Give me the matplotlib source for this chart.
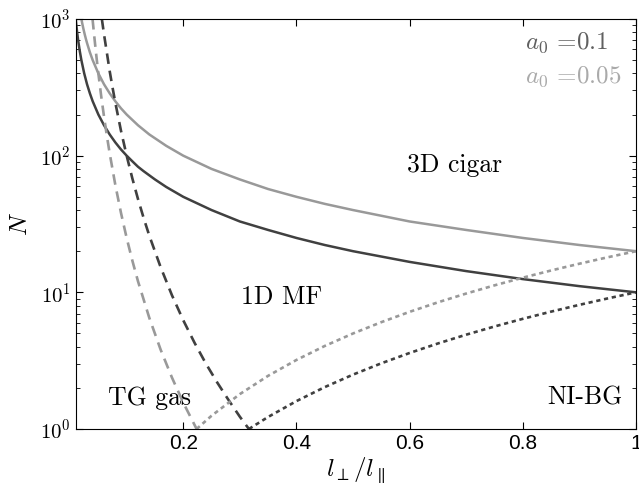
import numpy as np
import matplotlib
matplotlib.use('Agg')
import matplotlib.pyplot as plt
from matplotlib.ticker import FixedLocator, FixedFormatter, LogLocator, NullFormatter

plt.rcParams['font.family'] = 'Liberation Sans'
plt.rcParams['mathtext.fontset'] = 'cm'

# crossover curves, N versus l_perp / l_par
x_solid_a = [0.01, 0.011, 0.012, 0.013, 0.014, 0.015, 0.017, 0.02, 0.025, 0.03, 0.035,
             0.04, 0.05, 0.06, 0.07, 0.08, 0.09, 0.1, 0.11, 0.12, 0.13, 0.15, 0.17, 0.2,
             0.25, 0.3, 0.35, 0.4, 0.45, 0.5, 0.6, 0.7, 0.8, 0.9, 1.0]
n_solid_a = [1000, 909, 833, 769, 714, 667, 588, 500, 400, 333, 286,
             250, 200, 167, 143, 125, 111, 100, 91, 83, 77, 67, 59, 50,
             40, 33, 28.6, 25, 22.2, 20, 16.7, 14.3, 12.5, 11.1, 10]
x_solid_b = [0.02, 0.022, 0.024, 0.026, 0.028, 0.03, 0.035, 0.04, 0.05, 0.06, 0.07,
             0.08, 0.09, 0.1, 0.12, 0.14, 0.17, 0.2, 0.25, 0.3, 0.35, 0.4, 0.45, 0.5,
             0.6, 0.7, 0.8, 0.9, 1.0]
n_solid_b = [1000, 909, 833, 769, 714, 667, 571, 500, 400, 333, 286,
             250, 222, 200, 167, 143, 118, 100, 80, 67, 57, 50, 44.4, 40,
             33, 28.6, 25, 22.2, 20]

x_dash_a = [0.0562, 0.06, 0.065, 0.07, 0.075, 0.08, 0.09, 0.1, 0.11, 0.12, 0.13, 0.14,
            0.16, 0.18, 0.2, 0.22, 0.24, 0.26, 0.28, 0.3, 0.316]
n_dash_a = [1000, 772, 568, 416, 316, 244, 152, 100, 68.3, 48.2, 35.0, 26.0,
            15.3, 9.53, 6.25, 4.27, 3.01, 2.19, 1.63, 1.23, 1.0]
x_dash_b = [0.0397, 0.0425, 0.045, 0.0475, 0.05, 0.055, 0.06, 0.065, 0.07, 0.08, 0.09,
            0.1, 0.11, 0.12, 0.14, 0.16, 0.18, 0.2, 0.2236]
n_dash_b = [1000, 767, 610, 491, 400, 273, 193, 140, 104, 61, 38.1,
            25, 17.1, 12.06, 6.51, 3.81, 2.38, 1.56, 1.0]

x_dot_a = [0.316, 0.35, 0.4, 0.45, 0.5, 0.55, 0.6, 0.65, 0.7, 0.75, 0.8, 0.85,
           0.9, 0.95, 1.0]
n_dot_a = [1.0, 1.225, 1.6, 2.025, 2.5, 3.025, 3.6, 4.225, 4.9, 5.625, 6.4, 7.225,
           8.1, 9.025, 10]
x_dot_b = [0.2236, 0.25, 0.3, 0.35, 0.4, 0.45, 0.5, 0.55, 0.6, 0.65, 0.7, 0.75,
           0.8, 0.85, 0.9, 0.95, 1.0]
n_dot_b = [1.0, 1.25, 1.8, 2.45, 3.2, 4.05, 5.0, 6.05, 7.2, 8.45, 9.8, 11.25,
           12.8, 14.45, 16.2, 18.05, 20]

x_ticks = [0.2, 0.4, 0.6, 0.8, 1.0]
x_tick_labels = ['0.2', '0.4', '0.6', '0.8', '1']
y_ticks = [1, 10, 100, 1000]
y_tick_labels = [r'$\mathsf{10^{0}}$', r'$\mathsf{10^{1}}$', r'$\mathsf{10^{2}}$', r'$\mathsf{10^{3}}$']

dark = '#404040'
light = '#999999'

fig = plt.figure(figsize=(6.39, 4.90), dpi=100)
ax = fig.add_axes([0.1185, 0.1245, 0.8768, 0.8367])

ax.plot(x_solid_a, n_solid_a, color=dark, lw=1.8)
ax.plot(x_solid_b, n_solid_b, color=light, lw=1.8)
ax.plot(x_dash_a, n_dash_a, color=dark, lw=1.9, dashes=(4, 2.6))
ax.plot(x_dash_b, n_dash_b, color=light, lw=1.9, dashes=(4, 2.6))
ax.plot(x_dot_a, n_dot_a, color=dark, lw=1.9, dashes=(1.6, 1.4))
ax.plot(x_dot_b, n_dot_b, color=light, lw=1.9, dashes=(1.6, 1.4))

ax.set_yscale('log')
ax.set_xlim(0.01, 1)
ax.set_ylim(1, 1000)

ax.xaxis.set_major_locator(FixedLocator(x_ticks))
ax.xaxis.set_major_formatter(FixedFormatter(x_tick_labels))
ax.yaxis.set_major_locator(FixedLocator(y_ticks))
ax.yaxis.set_major_formatter(FixedFormatter(y_tick_labels))
ax.yaxis.set_minor_locator(LogLocator(base=10, subs=np.arange(2, 10)))
ax.yaxis.set_minor_formatter(NullFormatter())
ax.tick_params(which='both', direction='in', top=True, right=True, labelsize=15)
ax.tick_params(which='major', length=5, width=0.8)
ax.tick_params(which='minor', length=3, width=0.6)

ax.set_xlabel(r'$l_{\perp}/l_{\parallel}$', fontsize=18, labelpad=2)
ax.set_ylabel(r'$N$', fontsize=18, labelpad=6)

region_font = dict(fontfamily='cmr10', fontsize=18.5, color='black')
ax.text(0.68, 85, '3D cigar', ha='center', va='center', **region_font)
ax.text(0.373, 9.25, '1D MF', ha='center', va='center', **region_font)
ax.text(0.141, 1.69, 'TG gas', ha='center', va='center', **region_font)
ax.text(0.91, 1.69, 'NI-BG', ha='center', va='center', **region_font)

ax.text(0.804, 667, r'$a_0$ =0.1', ha='left', va='center', fontfamily='cmr10',
        fontsize=18, color='#606060')
ax.text(0.804, 377, r'$a_0$ =0.05', ha='left', va='center', fontfamily='cmr10',
        fontsize=18, color='#aaaaaa')

fig.savefig('out.png', dpi=100)
